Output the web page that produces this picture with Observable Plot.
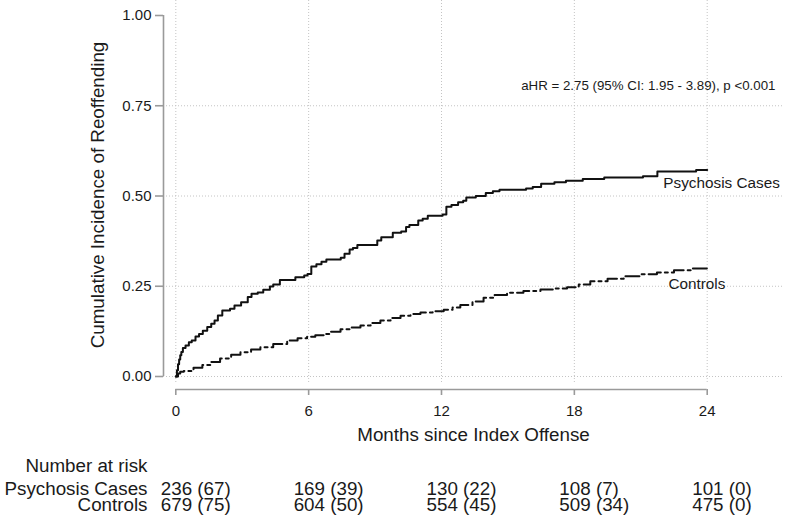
<!DOCTYPE html>
<html>
<head>
<meta charset="utf-8">
<script src="https://cdn.jsdelivr.net/npm/d3@7"></script>
<script src="https://cdn.jsdelivr.net/npm/@observablehq/plot@0.6"></script>
<style>
  html, body { margin: 0; padding: 0; background: #fff; }
  #chart svg { display: block; }
</style>
</head>
<body>
<div id="chart"></div>
<script>
// Cumulative incidence of reoffending (step points: month, cumulative incidence)
const psychosisT = [0, 0.05, 0.1, 0.15, 0.2, 0.25, 0.32, 0.44, 0.59, 0.72, 0.89, 1.05, 1.22, 1.42, 1.6, 1.75, 1.9, 2.1, 2.45, 2.65, 2.95, 3.25, 3.42, 3.7, 3.95, 4.25, 4.4, 4.7, 5.4, 5.8, 5.95, 6.12, 6.35, 6.58, 6.8, 7.45, 7.62, 7.85, 8.0, 8.2, 9.1, 9.28, 9.8, 10.18, 10.4, 10.55, 10.95, 11.15, 11.38, 12.05, 12.22, 12.45, 12.75, 12.98, 13.12, 13.55, 14.0, 14.32, 14.62, 15.82, 16.12, 16.5, 17.1, 17.62, 18.38, 19.35, 21.1, 21.75, 23.5, 24];
const psychosisV = [0, 0.017, 0.034, 0.047, 0.059, 0.068, 0.079, 0.086, 0.095, 0.1, 0.111, 0.118, 0.127, 0.137, 0.146, 0.155, 0.169, 0.183, 0.188, 0.197, 0.206, 0.22, 0.229, 0.233, 0.24, 0.249, 0.255, 0.267, 0.275, 0.28, 0.284, 0.305, 0.311, 0.318, 0.324, 0.329, 0.34, 0.352, 0.356, 0.364, 0.377, 0.386, 0.398, 0.402, 0.414, 0.42, 0.432, 0.437, 0.445, 0.449, 0.47, 0.475, 0.483, 0.487, 0.496, 0.5, 0.508, 0.513, 0.517, 0.521, 0.525, 0.534, 0.538, 0.542, 0.547, 0.551, 0.555, 0.568, 0.572, 0.572];

const controlsT = [0, 0.1, 0.2, 0.36, 0.8, 1.2, 1.57, 2.0, 2.5, 2.92, 3.4, 3.82, 4.4, 5.03, 5.5, 5.93, 6.3, 6.68, 7.0, 7.44, 7.9, 8.34, 8.8, 9.24, 9.7, 10.15, 10.6, 11.05, 11.6, 12.1, 12.5, 12.85, 13.4, 13.9, 14.4, 14.96, 15.7, 16.47, 17.1, 17.67, 18.2, 18.72, 19.5, 20.23, 21.0, 21.73, 22.5, 23.3, 24];
const controlsV = [0, 0.008, 0.013, 0.015, 0.024, 0.032, 0.04, 0.05, 0.06, 0.067, 0.075, 0.081, 0.09, 0.1, 0.106, 0.11, 0.114, 0.118, 0.124, 0.131, 0.136, 0.141, 0.148, 0.155, 0.162, 0.168, 0.173, 0.177, 0.181, 0.185, 0.191, 0.198, 0.208, 0.218, 0.226, 0.232, 0.237, 0.241, 0.244, 0.247, 0.255, 0.264, 0.271, 0.278, 0.283, 0.288, 0.294, 0.299, 0.3];

// Axis ticks
const xTicks = [0, 6, 12, 18, 24];
const yTicks = [0, 0.25, 0.5, 0.75, 1];
const yGrid = [0, 0.25, 0.5, 0.75];

// Number at risk (failures in following interval)
const riskTimes = [0, 6, 12, 18, 24];
const psychosisAtRisk = [236, 169, 130, 108, 101];
const psychosisEvents = [67, 39, 22, 7, 0];
const controlsAtRisk = [679, 604, 554, 509, 475];
const controlsEvents = [75, 50, 45, 34, 0];

const groupNames = ["Psychosis Cases", "Controls"];
const curveLabels = [
  {text: "Psychosis Cases", t: 22.02, v: 0.537},
  {text: "Controls", t: 22.25, v: 0.255}
];
const hrNote = "aHR = 2.75 (95% CI: 1.95 - 3.89), p <0.001";

// Layout
const insetL = 12.3, insetB = 13;
const axisGray = "#9a9a9a";
const gridGray = "#c4c4c4";
const textColor = "#1a1a1a";
const font = "'Liberation Sans', Arial, sans-serif";

const psychosis = psychosisT.map((t, i) => ({t, v: psychosisV[i]}));
const controls = controlsT.map((t, i) => ({t, v: controlsV[i]}));
const riskPsy = riskTimes.map((t, i) => ({t, label: `${psychosisAtRisk[i]} (${psychosisEvents[i]})`}));
const riskCtl = riskTimes.map((t, i) => ({t, label: `${controlsAtRisk[i]} (${controlsEvents[i]})`}));

const chart = Plot.plot({
  width: 787,
  height: 524,
  marginLeft: 163,
  marginRight: 4,
  marginTop: 0,
  marginBottom: 135,
  style: {fontFamily: font, background: "#fff", color: textColor, overflow: "visible"},
  x: {domain: [0, 24], insetLeft: insetL, insetRight: 76.3},
  y: {domain: [0, 1], insetTop: 15, insetBottom: insetB},
  marks: [
    // dotted grid
    Plot.gridY(yGrid, {stroke: gridGray, strokeOpacity: 1, strokeWidth: 1, strokeDasharray: "1,2"}),
    Plot.gridX(xTicks, {stroke: gridGray, strokeOpacity: 1, strokeWidth: 1, strokeDasharray: "1,2", insetBottom: 6}),

    // axes
    Plot.ruleX([0], {y1: 0, y2: 1, dx: -insetL, stroke: axisGray, strokeWidth: 1.6}),
    Plot.axisY(yTicks, {tickSize: 8, tickPadding: 4, fontSize: 15, tickFormat: d3.format(".2f"), stroke: axisGray, strokeWidth: 1.6, fill: textColor, label: null}),
    Plot.ruleY([0], {x1: 0, x2: 24, dy: insetB, stroke: axisGray, strokeWidth: 1.6}),
    Plot.axisX(xTicks, {tickSize: 6, tickPadding: 10, fontSize: 15, stroke: axisGray, strokeWidth: 1.6, fill: textColor, label: null}),

    // axis titles
    Plot.text(["Cumulative Incidence of Reoffending"], {frameAnchor: "left", rotate: -90, dx: -59.5, textAnchor: "middle", lineAnchor: "bottom", fontSize: 18.8, fill: textColor}),
    Plot.text(["Months since Index Offense"], {frameAnchor: "bottom", dy: 51, textAnchor: "middle", lineAnchor: "bottom", fontSize: 18.8, fill: textColor}),

    // curves
    Plot.line(controls, {x: "t", y: "v", curve: "step-after", stroke: "#111", strokeWidth: 2, strokeDasharray: "14,4,3,4"}),
    Plot.line(psychosis, {x: "t", y: "v", curve: "step-after", stroke: "#111", strokeWidth: 2}),

    // labels
    Plot.text(curveLabels, {x: "t", y: "v", text: "text", textAnchor: "start", lineAnchor: "middle", fontSize: 15.3, fill: textColor}),
    Plot.text([hrNote], {frameAnchor: "top-right", dx: -8, dy: 85, textAnchor: "end", lineAnchor: "middle", fontSize: 13.3, fill: textColor}),

    // number at risk table
    Plot.text(["Number at risk"], {frameAnchor: "bottom-left", dx: -16, dy: 82.7, textAnchor: "end", lineAnchor: "bottom", fontSize: 18.8, fill: textColor}),
    Plot.text([groupNames[0]], {frameAnchor: "bottom-left", dx: -16, dy: 105, textAnchor: "end", lineAnchor: "bottom", fontSize: 18.8, fill: textColor}),
    Plot.text([groupNames[1]], {frameAnchor: "bottom-left", dx: -16, dy: 121.7, textAnchor: "end", lineAnchor: "bottom", fontSize: 18.8, fill: textColor}),
    Plot.text(riskPsy, {x: "t", text: "label", frameAnchor: "bottom", dx: -15, dy: 105, textAnchor: "start", lineAnchor: "bottom", fontSize: 18.8, fill: textColor}),
    Plot.text(riskCtl, {x: "t", text: "label", frameAnchor: "bottom", dx: -15, dy: 121.7, textAnchor: "start", lineAnchor: "bottom", fontSize: 18.8, fill: textColor})
  ]
});

document.getElementById("chart").append(chart);
</script>
</body>
</html>
